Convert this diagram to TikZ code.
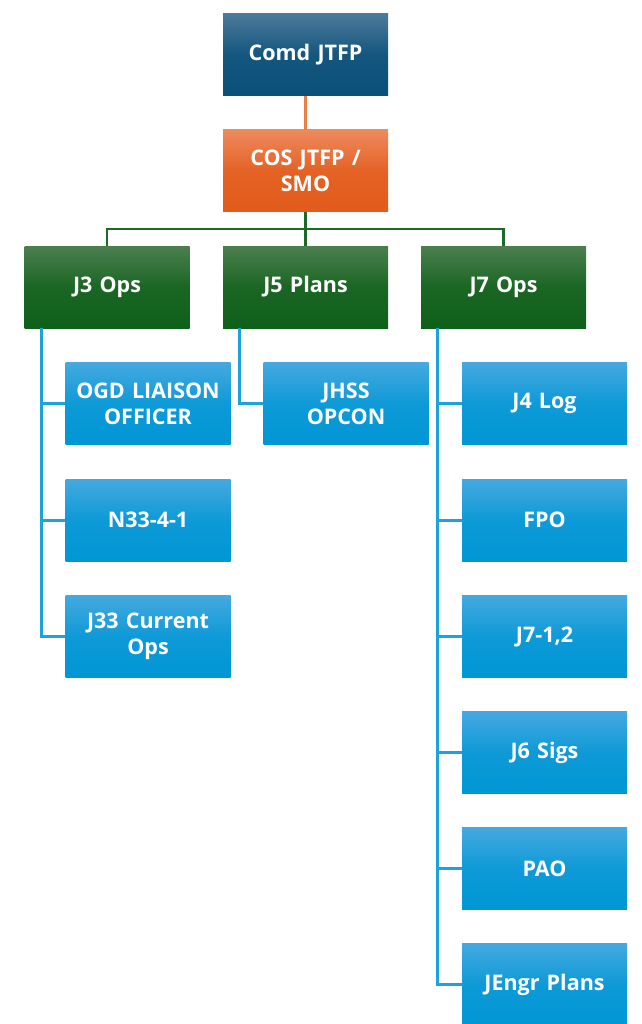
\documentclass[tikz,border=0pt]{standalone}
\usepackage{fontspec}
\setmainfont{Open Sans}
\definecolor{comdtop}{HTML}{4D7A9A}
\definecolor{comdbot}{HTML}{0A5079}
\definecolor{costop}{HTML}{EE8A5E}
\definecolor{cosbot}{HTML}{E25B1B}
\definecolor{jtop}{HTML}{4C7F4F}
\definecolor{jbot}{HTML}{0E6019}
\definecolor{subtop}{HTML}{45A9E0}
\definecolor{subbot}{HTML}{0096D5}
\definecolor{cosline}{HTML}{ED7D45}
\definecolor{jline}{HTML}{1B6B26}
\definecolor{subline}{HTML}{1CA3DC}

\begin{document}
\begin{tikzpicture}[x=1pt,y=-1pt,
    unit/.style={minimum width=165pt, minimum height=82pt, text width=162pt,
        align=center, inner sep=0pt, text=white,
        font=\bfseries\fontsize{21.5}{26}\selectfont},
    comdbox/.style={unit, top color=comdtop, bottom color=comdbot, middle color=comdbot!85!comdtop},
    cosbox/.style={unit, top color=costop, bottom color=cosbot, middle color=cosbot!85!costop},
    jbox/.style={unit, top color=jtop, bottom color=jbot, middle color=jbot!80!jtop},
    subbox/.style={unit, top color=subtop, bottom color=subbot, middle color=subbot!80!subtop},
    link/.style={line width=2.5pt}]
    \useasboundingbox (0,0) rectangle (641,1024);

    % Command
    \node[comdbox] (comd) at (305.5,54.5) {Comd JTFP};
    \node[cosbox] (cos) at (305.5,171) {COS JTFP /\\SMO};

    % J branches
    \node[jbox] (j3) at (107,287) {J3 Ops};
    \node[jbox] (j5) at (305.5,287) {J5 Plans};
    \node[jbox] (j7) at (503.5,287) {J7 Ops};

    % J3 cells
    \node[subbox] (ogd) at (148,403.5) {OGD LIAISON\\OFFICER};
    \node[subbox] (n33) at (148,520) {N33-4-1};
    \node[subbox] (j33) at (148,636.5) {J33 Current\\Ops};

    % J5 cell
    \node[subbox] (jhss) at (346,403.5) {JHSS\\OPCON};

    % J7 cells
    \foreach \y/\name/\label in {403.5/jlog/J4 Log, 520/fpo/FPO, 636.5/jsev/{J7-1,2},
            752.5/jsix/J6 Sigs, 868.5/pao/PAO, 984.5/jengr/JEngr Plans}
        \node[subbox] (\name) at (544.5,\y) {\label};

    % Links
    \draw[link, cosline] (comd) -- (cos);
    \coordinate (bus) at (305.5,229);
    \draw[link, jline] (cos) -- (bus);
    \draw[link, jline] (j3.north) |- (bus) -| (j7.north);
    \draw[link, jline] (bus) -- (j5);

    \foreach \n in {ogd,n33,j33}
        \draw[link, subline, line width=3pt] ([xshift=17pt]j3.south west) |- (\n.west);
    \draw[link, subline, line width=3pt] ([xshift=17pt]j5.south west) |- (jhss.west);
    \foreach \n in {jlog,fpo,jsev,jsix,pao,jengr}
        \draw[link, subline, line width=3pt] ([xshift=17pt]j7.south west) |- (\n.west);
\end{tikzpicture}
\end{document}
